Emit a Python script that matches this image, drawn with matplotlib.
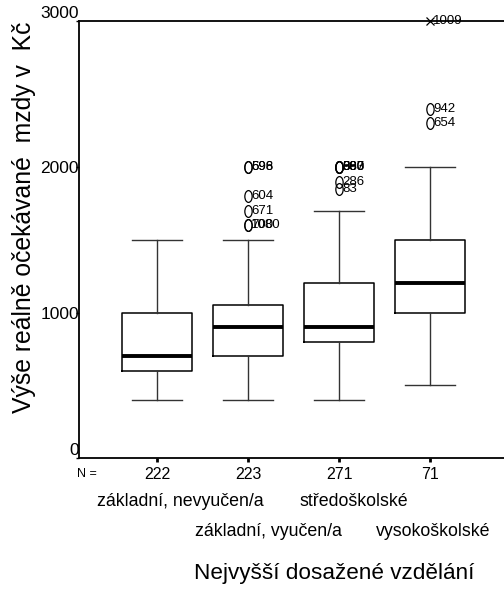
import matplotlib.pyplot as plt
import numpy as np
from matplotlib.path import Path
from matplotlib.transforms import Affine2D, blended_transform_factory

plt.rcParams['font.family'] = ['Liberation Sans', 'DejaVu Sans']

# data
categories = ['základní, nevyučen/a', 'základní, vyučen/a', 'středoškolské', 'vysokoškolské']
counts = [222, 223, 271, 71]
whislo = [400, 400, 400, 500]
q1 = [600, 700, 800, 1000]
med = [700, 900, 900, 1200]
q3 = [1000, 1050, 1200, 1500]
whishi = [1500, 1500, 1700, 2000]

# outliers: (group index, value, case label)
out_group = [1, 1, 1, 1, 1, 1, 2, 2, 2, 2, 2, 2, 3, 3]
out_value = [2000, 2000, 1800, 1700, 1600, 1600, 2000, 2000, 2000, 2000, 1900, 1850, 2400, 2300]
out_label = ['598', '696', '604', '671', '1080', '700', '380', '593', '887', '960', '286', '83', '942', '654']
ext_group = [3]
ext_value = [3000]
ext_label = ['1009']

fig = plt.figure(figsize=(5.04, 5.95), dpi=100)
ax = fig.add_axes([79 / 504, 1 - 458.3 / 595, 1 - 79 / 504, (458.3 - 21.3) / 595])

pos = np.arange(1, len(categories) + 1)
stats = []
for i in range(len(categories)):
    stats.append(dict(whislo=whislo[i], q1=q1[i], med=med[i], q3=q3[i], whishi=whishi[i], fliers=[]))

ax.bxp(stats, positions=pos, widths=0.77, capwidths=0.55, showfliers=False,
       boxprops=dict(color='black', linewidth=1.1),
       whiskerprops=dict(color='#333333', linewidth=1.0),
       capprops=dict(color='#333333', linewidth=1.0),
       medianprops=dict(color='black', linewidth=2.8))

ell = Path.unit_circle().transformed(Affine2D().scale(0.62, 1.0))
ax.plot(pos[out_group], out_value, linestyle='none', marker=ell, markersize=8.5,
        markerfacecolor='none', markeredgecolor='black', markeredgewidth=0.9, clip_on=False)
for g, v, t in zip(out_group, out_value, out_label):
    ax.annotate(t, (pos[g], v), xytext=(2.2, 0), textcoords='offset points',
                va='center', ha='left', fontsize=9.5)
ax.plot(pos[ext_group], ext_value, linestyle='none', marker='x', markersize=6,
        color='black', markeredgewidth=0.9, clip_on=False)
for g, v, t in zip(ext_group, ext_value, ext_label):
    ax.annotate(t, (pos[g], v), xytext=(2.2, 0), textcoords='offset points',
                va='center', ha='left', fontsize=9.5)

ax.set_xlim(0.143, 4.813)
ax.set_ylim(0, 3000)
ax.set_yticks([0, 1000, 2000, 3000])
ax.tick_params(axis='y', length=2, width=1, pad=-2, labelsize=12.5)
ylabs = ax.get_yticklabels()
ylabs[0].set_va('bottom')
ylabs[-1].set_va('bottom')
ax.set_xticks(pos)
ax.set_xticklabels([str(c) for c in counts])
ax.tick_params(axis='x', length=3, width=2, pad=3, labelsize=11.5)
ax.spines['right'].set_visible(False)
for s in ['left', 'bottom', 'top']:
    ax.spines[s].set_linewidth(1.3)

trans = blended_transform_factory(ax.transData, ax.transAxes)
ax.text(-0.005, -0.037, 'N =', transform=ax.transAxes, fontsize=9, ha='left', va='center')
shift = [0.26, 0.23, 0.16, 0.03]
rows = [-0.1, -0.167, -0.1, -0.167]
for i, c in enumerate(categories):
    ax.text(pos[i] + shift[i], rows[i], c, transform=trans, fontsize=12.8, ha='center', va='center')

fig.text(334 / 504, 1 - 573 / 595, 'Nejvyšší dosažené vzdělání', fontsize=16.2, ha='center', va='center')
fig.text(24 / 504, 1 - 217 / 595, 'Výše reálně očekávané  mzdy v  Kč', fontsize=17.8,
         rotation=90, ha='center', va='center')

fig.savefig('out.png', dpi=100)
